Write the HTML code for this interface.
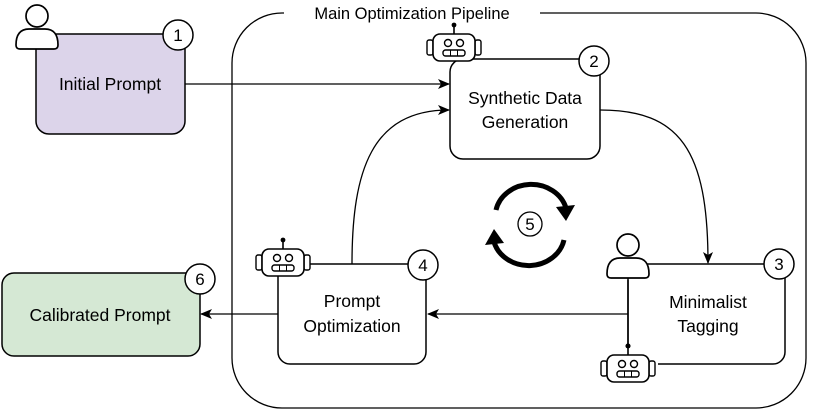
<!DOCTYPE html>
<html><head><meta charset="utf-8"><style>
html,body{margin:0;padding:0;background:#fff;}
svg{display:block;font-family:"Liberation Sans",Arial,sans-serif;}
</style></head><body>
<svg width="816" height="414" viewBox="0 0 816 414" xmlns="http://www.w3.org/2000/svg">
<defs>
<marker id="ah" markerWidth="12" markerHeight="10" refX="11" refY="5" orient="auto" markerUnits="userSpaceOnUse">
<path d="M0,0 L12,5 L0,10 L3,5 Z" fill="#000"/>
</marker>
<g id="robot">
<line x1="0" y1="-22" x2="0" y2="-13" stroke="#000" stroke-width="1.6"/>
<circle cx="0" cy="-22" r="2.4" fill="#000"/>
<rect x="-27" y="-7" width="6" height="15" rx="2" fill="#fff" stroke="#000" stroke-width="1.4"/>
<rect x="21" y="-7" width="6" height="15" rx="2" fill="#fff" stroke="#000" stroke-width="1.4"/>
<rect x="-21" y="-13" width="42" height="27" rx="7" fill="#fff" stroke="#000" stroke-width="1.6"/>
<circle cx="-6" cy="-4" r="3.5" fill="none" stroke="#000" stroke-width="1.4"/>
<circle cx="6" cy="-4" r="3.5" fill="none" stroke="#000" stroke-width="1.4"/>
<rect x="-11" y="3" width="22" height="6" rx="2.5" fill="none" stroke="#000" stroke-width="1.4"/>
<line x1="-3.5" y1="3" x2="-3.5" y2="9" stroke="#000" stroke-width="1"/>
<line x1="3.5" y1="3" x2="3.5" y2="9" stroke="#000" stroke-width="1"/>
</g>
<g id="person">
<circle cx="0" cy="-15" r="11" fill="#fff" stroke="#000" stroke-width="1.7"/>
<path d="M-21,14 Q-21,-2 -8,-2 L8,-2 Q21,-2 21,14 Q21,18 17,18 L-17,18 Q-21,18 -21,14 Z" fill="#fff" stroke="#000" stroke-width="1.7"/>
</g>
</defs>

<!-- main container -->
<rect x="232" y="13" width="574" height="395" rx="50" fill="none" stroke="#000" stroke-width="1.3"/>
<rect x="284" y="3" width="256" height="20" fill="#fff"/>
<text x="412" y="19" font-size="16.5" text-anchor="middle">Main Optimization Pipeline</text>

<!-- connectors -->
<line x1="185" y1="84" x2="449" y2="84" stroke="#000" stroke-width="1.3" marker-end="url(#ah)"/>
<path d="M352,264 C352,170 372,110 449,110" fill="none" stroke="#000" stroke-width="1.3" marker-end="url(#ah)"/>
<path d="M600,110 C680,110 708,150 708,263" fill="none" stroke="#000" stroke-width="1.3" marker-end="url(#ah)"/>
<line x1="628" y1="314" x2="428" y2="314" stroke="#000" stroke-width="1.3" marker-end="url(#ah)"/>
<line x1="278" y1="314" x2="201" y2="314" stroke="#000" stroke-width="1.3" marker-end="url(#ah)"/>

<!-- Initial Prompt -->
<rect x="36" y="34" width="149" height="100" rx="13" fill="#dcd4ea" stroke="#000" stroke-width="1.5"/>
<text x="110" y="90" font-size="17.5" text-anchor="middle">Initial Prompt</text>
<use href="#person" x="37" y="31"/>
<circle cx="178" cy="35" r="15" fill="#fff" stroke="#000" stroke-width="1.5"/>
<text x="178" y="41" font-size="17" text-anchor="middle">1</text>

<!-- Synthetic Data Generation -->
<rect x="450" y="59" width="150" height="100" rx="13" fill="#fff" stroke="#000" stroke-width="1.5"/>
<text x="525" y="104" font-size="17.5" text-anchor="middle">Synthetic Data</text>
<text x="525" y="128" font-size="17.5" text-anchor="middle">Generation</text>
<use href="#robot" x="454" y="47"/>
<circle cx="594" cy="61" r="15" fill="#fff" stroke="#000" stroke-width="1.5"/>
<text x="594" y="67" font-size="17" text-anchor="middle">2</text>

<!-- Minimalist Tagging -->
<rect x="628" y="264" width="157" height="100" rx="12" fill="#fff" stroke="#000" stroke-width="1.5"/>
<text x="708" y="308" font-size="17.5" text-anchor="middle">Minimalist</text>
<text x="708" y="332" font-size="17.5" text-anchor="middle">Tagging</text>
<line x1="628" y1="280" x2="628" y2="346" stroke="#000" stroke-width="1.5"/>
<circle cx="628" cy="346" r="2.5" fill="#000"/>
<rect x="598" y="348" width="60" height="36" fill="#fff"/>
<use href="#robot" x="628" y="368"/>
<use href="#person" x="628" y="260"/>
<circle cx="779" cy="264" r="15" fill="#fff" stroke="#000" stroke-width="1.5"/>
<text x="779" y="270" font-size="17" text-anchor="middle">3</text>

<!-- Prompt Optimization -->
<rect x="278" y="264" width="148" height="100" rx="12" fill="#fff" stroke="#000" stroke-width="1.5"/>
<text x="352" y="307" font-size="17.5" text-anchor="middle">Prompt</text>
<text x="352" y="332" font-size="17.5" text-anchor="middle">Optimization</text>
<use href="#robot" x="283" y="262"/>
<circle cx="423" cy="265" r="15" fill="#fff" stroke="#000" stroke-width="1.5"/>
<text x="423" y="271" font-size="17" text-anchor="middle">4</text>

<!-- Calibrated Prompt -->
<rect x="2" y="273" width="198" height="83" rx="12" fill="#d5e8d4" stroke="#000" stroke-width="1.5"/>
<text x="100" y="321" font-size="17.5" text-anchor="middle">Calibrated Prompt</text>
<circle cx="200" cy="279" r="15" fill="#fff" stroke="#000" stroke-width="1.5"/>
<text x="200" y="285" font-size="17" text-anchor="middle">6</text>

<!-- cycle icon -->
<path d="M496,210 A36,32 0 0 1 566,208" fill="none" stroke="#000" stroke-width="5"/>
<path d="M556,207 L575,205 L566,221 Z" fill="#000"/>
<path d="M564,240 A36,32 0 0 1 494,242" fill="none" stroke="#000" stroke-width="5"/>
<path d="M504,243 L485,245 L494,229 Z" fill="#000"/>
<circle cx="530" cy="224" r="12" fill="#fff" stroke="#000" stroke-width="1.3"/>
<text x="530" y="230" font-size="17" text-anchor="middle">5</text>
</svg>
</body></html>
